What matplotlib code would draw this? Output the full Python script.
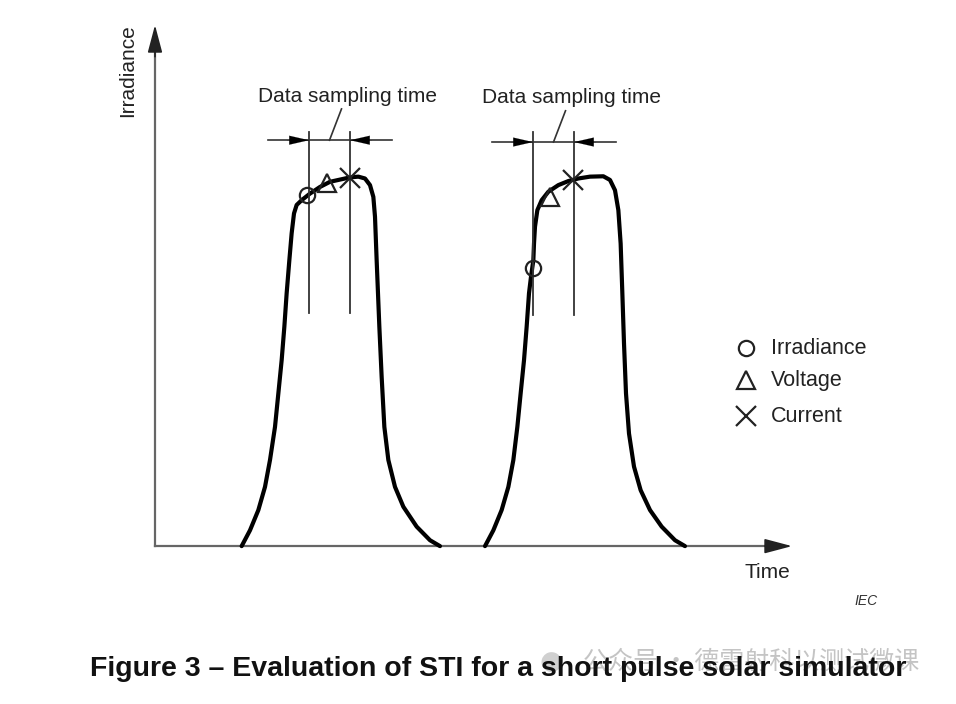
import numpy as np
import matplotlib
matplotlib.use("Agg")
import matplotlib.pyplot as plt

plt.rcParams["font.family"] = ["Liberation Sans", "DejaVu Sans"]

# pulse shapes (time in arbitrary units, irradiance normalised to peak)
pulse1_t = [1.733, 1.90, 2.067, 2.20, 2.30, 2.40, 2.467, 2.533, 2.587, 2.633,
            2.687, 2.733, 2.78, 2.833, 2.933, 3.10, 3.30, 3.50, 3.70, 3.90,
            4.067, 4.20, 4.30, 4.367, 4.40, 4.433, 4.487, 4.533, 4.587, 4.667,
            4.80, 4.967, 5.233, 5.50, 5.70]
pulse1_irr = [0.0, 0.043, 0.098, 0.161, 0.234, 0.324, 0.415, 0.505, 0.596,
              0.687, 0.777, 0.850, 0.904, 0.927, 0.940, 0.958, 0.976, 0.990,
              0.996, 1.002, 1.004, 0.999, 0.981, 0.949, 0.895, 0.777, 0.596,
              0.460, 0.324, 0.234, 0.161, 0.107, 0.053, 0.016, 0.0]
pulse2_t = [6.60, 6.767, 6.933, 7.067, 7.167, 7.247, 7.313, 7.38, 7.433, 7.48,
            7.52, 7.567, 7.58, 7.60, 7.647, 7.733, 7.867, 8.067, 8.267, 8.467,
            8.70, 8.967, 9.10, 9.20, 9.267, 9.313, 9.347, 9.38, 9.42, 9.48,
            9.58, 9.713, 9.90, 10.133, 10.40, 10.60]
pulse2_irr = [0.0, 0.043, 0.098, 0.161, 0.234, 0.324, 0.415, 0.505, 0.596,
              0.687, 0.732, 0.777, 0.822, 0.868, 0.913, 0.940, 0.963, 0.981,
              0.992, 0.999, 1.004, 1.005, 0.995, 0.967, 0.913, 0.822, 0.687,
              0.551, 0.415, 0.306, 0.216, 0.152, 0.098, 0.053, 0.016, 0.0]

# measurement points: irradiance, voltage, current
irr_pts_t = [3.04, 7.56]
irr_pts_v = [0.954, 0.755]
volt_pts_t = [3.44, 7.90]
volt_pts_v = [0.986, 0.948]
curr_pts_t = [3.90, 8.36]
curr_pts_v = [1.0, 0.995]

# data sampling windows
window_start = [3.08, 7.56]
window_end = [3.90, 8.38]
window_low = [0.633, 0.628]
window_high = [1.125, 1.125]
dim_level = [1.103, 1.098]

legend_labels = ["Irradiance", "Voltage", "Current"]

fig = plt.figure(figsize=(9.56, 7.04), dpi=100)
ax = fig.add_axes([0, 0, 1, 1])
ax.set_xlim(-3.1, 16.02)
ax.set_ylim(-0.429, 1.484)
ax.axis("off")

# axes with arrows
axis_col = "#666666"
ax.plot([0, 12.5], [0, 0], color=axis_col, lw=1.6)
ax.plot([0, 0], [0, 1.36], color=axis_col, lw=1.6)
head = "-|>,head_length=1.7,head_width=0.45"
ax.annotate("", xy=(12.74, 0), xytext=(12.2, 0),
            arrowprops=dict(arrowstyle=head, color="#222222", lw=1.2,
                            shrinkA=0, shrinkB=0))
ax.annotate("", xy=(0, 1.416), xytext=(0, 1.33),
            arrowprops=dict(arrowstyle=head, color="#222222", lw=1.2,
                            shrinkA=0, shrinkB=0))
ax.text(-0.54, 1.293, "Irradiance", rotation=90, ha="center", va="center",
        fontsize=15, color="#222222")
ax.text(12.24, -0.073, "Time", ha="center", va="center", fontsize=15,
        color="#222222")
ax.text(14.22, -0.149, "IEC", ha="center", va="center", fontsize=10,
        style="italic", color="#333333")

# pulses
for t, v in [(pulse1_t, pulse1_irr), (pulse2_t, pulse2_irr)]:
    ax.plot(t, v, color="black", lw=3, solid_joinstyle="round",
            solid_capstyle="round")

# sampling windows
for i in range(2):
    s, e, y = window_start[i], window_end[i], dim_level[i]
    for x in (s, e):
        ax.plot([x, x], [window_low[i], window_high[i]], color="#333333",
                lw=1.3)
    ax.plot([s - 0.82, e + 0.84], [y, y], color="#333333", lw=1.2)
    ax.annotate("", xy=(s, y), xytext=(s - 0.44, y),
                arrowprops=dict(arrowstyle="-|>,head_length=1.4,head_width=0.32",
                                color="black", lw=0.1, shrinkA=0, shrinkB=0))
    ax.annotate("", xy=(e, y), xytext=(e + 0.44, y),
                arrowprops=dict(arrowstyle="-|>,head_length=1.4,head_width=0.32",
                                color="black", lw=0.1, shrinkA=0, shrinkB=0))
    mid = (s + e) / 2
    ax.plot([mid, mid + 0.24], [y, y + 0.085], color="#333333", lw=1.2)
    ax.text(mid + 0.37, y + 0.12, "Data sampling time", ha="center",
            va="center", fontsize=15, color="#222222")

# markers
mk_o = dict(marker="o", markerfacecolor="none", markeredgecolor="#222222",
            ms=11, mew=1.6, linestyle="none")
mk_t = dict(marker="^", markerfacecolor="none", markeredgecolor="#222222",
            ms=13, mew=1.6, linestyle="none")
mk_x = dict(marker="x", ms=14, mew=1.6, color="#222222", linestyle="none")
ax.plot(irr_pts_t, irr_pts_v, **mk_o)
ax.plot(volt_pts_t, volt_pts_v, **mk_t)
ax.plot(curr_pts_t, curr_pts_v, **mk_x)

# legend
leg_t = 11.82
leg_y = [0.538, 0.451, 0.353]
ax.plot(leg_t, leg_y[0], **mk_o)
ax.plot(leg_t, leg_y[1], **mk_t)
ax.plot(leg_t, leg_y[2], **mk_x)
for y, lab in zip(leg_y, legend_labels):
    ax.text(leg_t + 0.5, y, lab, ha="left", va="center", fontsize=15.5,
            color="#222222")

# watermark (behind the caption)
fig.text(0.576, 1 - 662 / 704, "\u25cf", ha="center", va="center",
         fontsize=19, color="#d0d0d0", family=["DejaVu Sans"], zorder=1)
fig.text(0.61, 1 - 662 / 704,
         "\u516c\u4f17\u53f7 \u00b7 \u5fb7\u96f7\u5c04\u79d1\u4ee5\u6d4b\u8bd5\u5fae\u8bfe",
         ha="left", va="center", fontsize=18, color="#c4c4c4",
         family=["Noto Sans CJK SC", "DejaVu Sans"], zorder=1)

fig.text(0.521, 1 - 669 / 704,
         "Figure 3 \u2013 Evaluation of STI for a short pulse solar simulator",
         ha="center", va="center", fontsize=20.5, fontweight="bold",
         color="#111111", zorder=5)

fig.savefig("out.png", dpi=100)
